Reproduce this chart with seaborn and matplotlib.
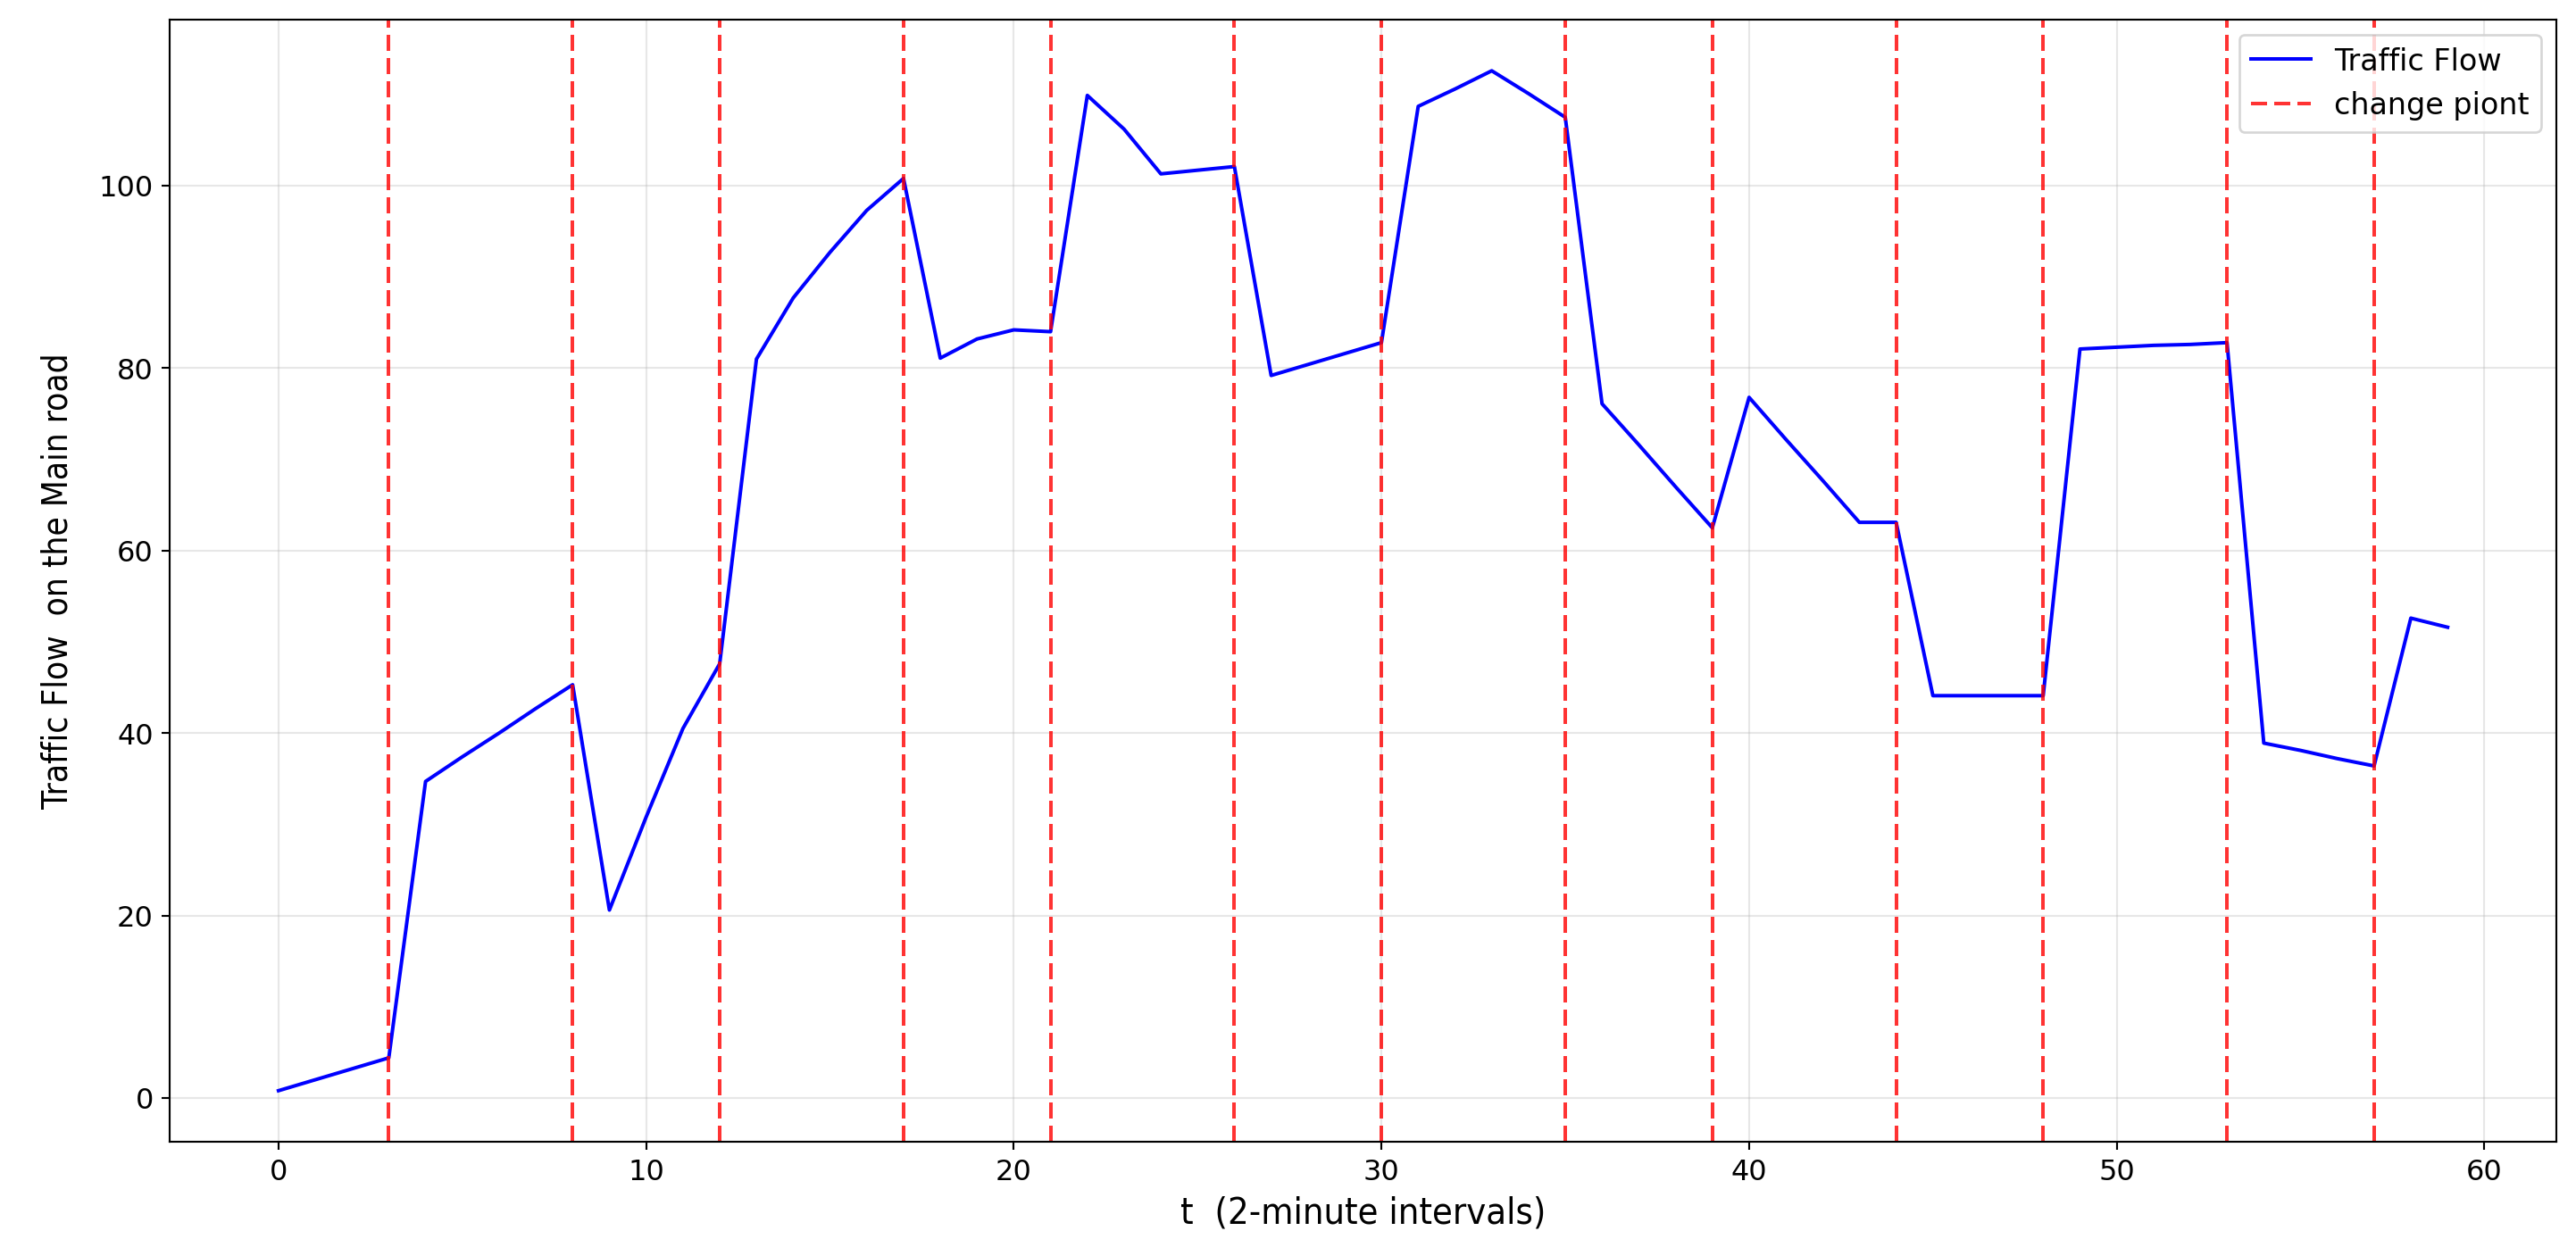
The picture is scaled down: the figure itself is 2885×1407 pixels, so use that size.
import numpy as np
import pandas as pd
import matplotlib
matplotlib.use('Agg')
import matplotlib.pyplot as plt
import seaborn as sns

# traffic flow on the main road, one value per 2-minute interval
t = list(range(60))
flow = [0.8, 2.0, 3.2, 4.4, 34.7, 37.4, 40.0, 42.7, 45.3, 20.6,
        30.8, 40.5, 47.6, 81.0, 87.7, 92.7, 97.3, 100.8, 81.1, 83.2,
        84.2, 84.0, 109.9, 106.2, 101.3, 101.7, 102.1, 79.2, 80.4, 81.6,
        82.8, 108.7, 110.6, 112.6, 110.1, 107.5, 76.1, 71.6, 67.0, 62.5,
        76.8, 72.2, 67.7, 63.1, 63.1, 44.1, 44.1, 44.1, 44.1, 82.1,
        82.3, 82.5, 82.6, 82.8, 38.9, 38.1, 37.2, 36.4, 52.6, 51.6]

change_points = [3, 8, 12, 17, 21, 26, 30, 35, 39, 44, 48, 53, 57]

df = pd.DataFrame({'t': t, 'flow': flow})

fig, ax = plt.subplots(figsize=(15.03, 7.33), dpi=192)
fig.subplots_adjust(left=0.066, right=0.992, top=0.984, bottom=0.091)

sns.lineplot(data=df, x='t', y='flow', color='blue', linewidth=1.5,
             label='Traffic Flow', ax=ax)

for i, cp in enumerate(change_points):
    ax.axvline(cp, color='red', linestyle=(0, (4.5, 2.0)), linewidth=1.5, alpha=0.8,
               label='change piont' if i == 0 else None)

ax.grid(True, alpha=0.3)
ax.tick_params(labelsize=12)
ax.set_xlabel('t  (2-minute intervals)', fontsize=15.5, fontstretch='condensed')
ax.set_ylabel('Traffic Flow  on the Main road', fontsize=14.5, fontstretch='condensed',
              labelpad=10)
ax.legend(loc='upper right', fontsize=12.5)

plt.savefig('out.png')
